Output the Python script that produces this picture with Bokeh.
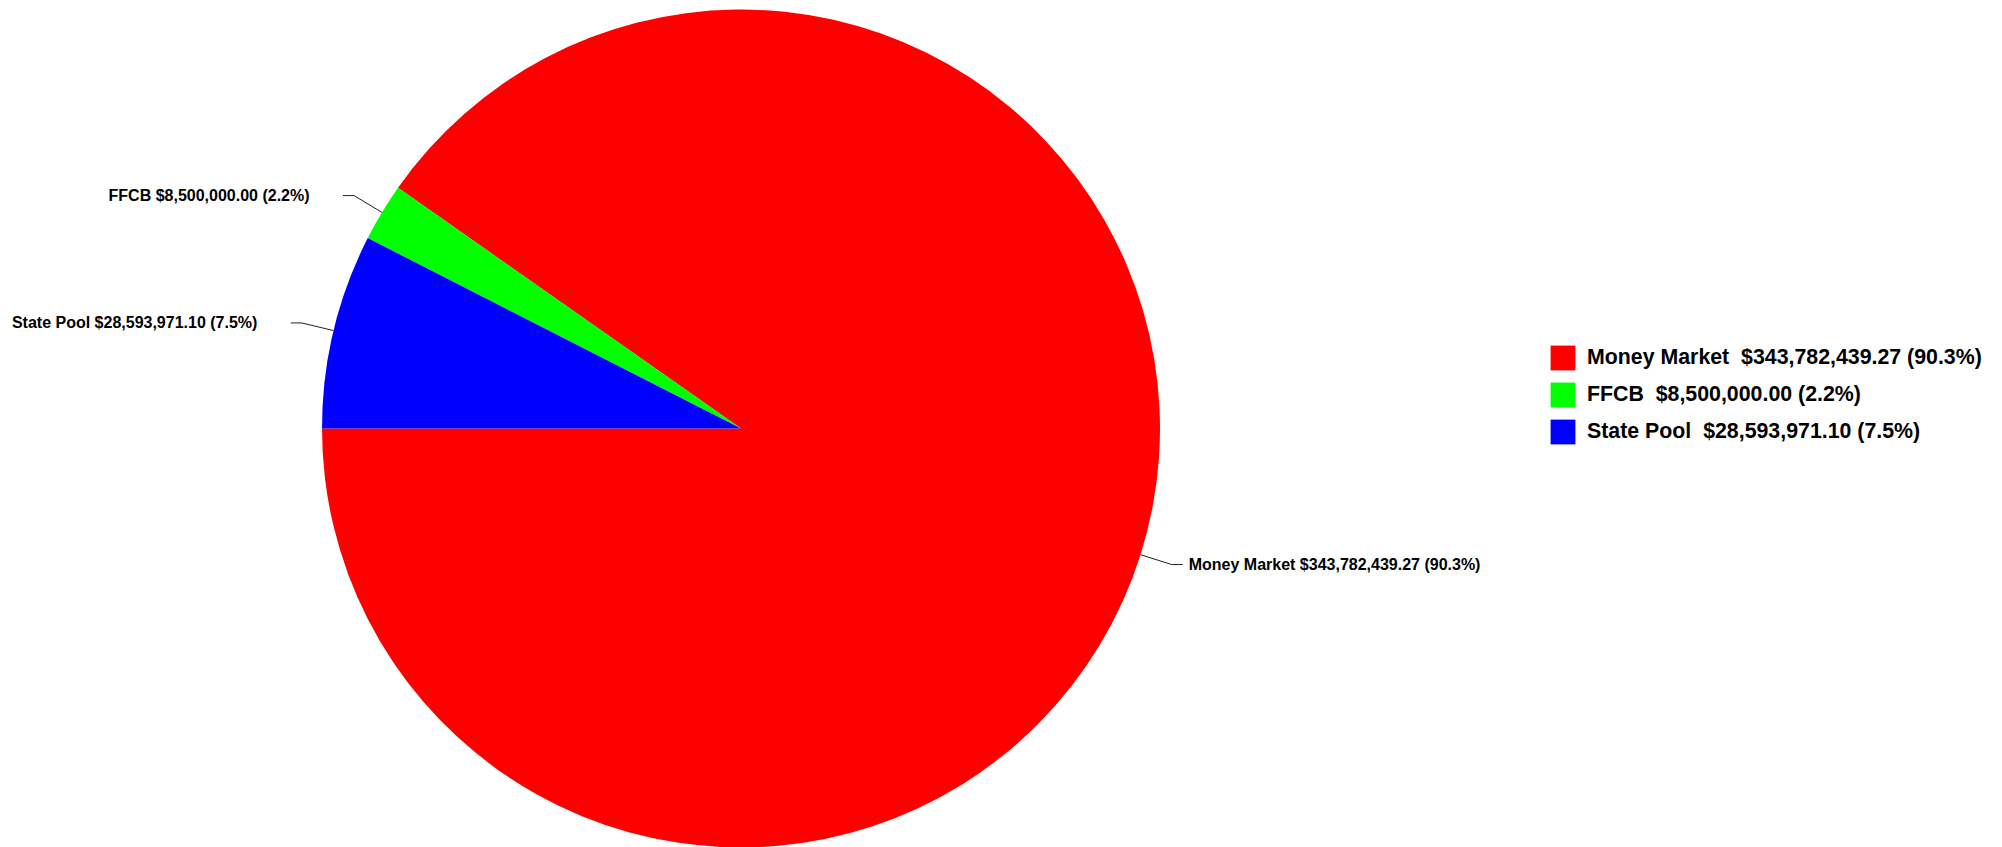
import math
from bokeh.plotting import figure
from bokeh.models import Range1d, Legend, LegendItem
from bokeh.core.properties import value
from bokeh.embed import file_html
from bokeh.resources import INLINE

# ---- data ----
categories = ["Money Market", "FFCB", "State Pool"]
amounts = [343782439.27, 8500000.00, 28593971.10]
colors = ["#FF0000", "#00FF00", "#0000FF"]

# ---- layout (pixels) ----
W, H = 2002, 847
CX, CY, R = 740.5, 847 - 428.0, 419.0
ELBOW = 1.078
HSEG = 11
FONT = "Liberation Sans"

total = sum(amounts)
fracs = [a / total for a in amounts]
labels = [f"{c}  ${a:,.2f} ({f*100:.1f}%)" for c, a, f in zip(categories, amounts, fracs)]

starts, ends = [], []
ang = math.pi
for f in fracs:
    starts.append(ang)
    ang += f * 2 * math.pi
    ends.append(ang)

p = figure(width=W, height=H, x_range=Range1d(0, W), y_range=Range1d(0, H),
           output_backend="svg", toolbar_location=None, min_border=0,
           x_axis_location=None, y_axis_location=None)
p.grid.visible = False
p.outline_line_color = None
p.background_fill_color = "white"
p.border_fill_color = "white"

wedges = p.wedge(x=[CX] * 3, y=[CY] * 3, radius=R, start_angle=starts, end_angle=ends,
                 fill_color=colors, line_color=None, direction="anticlock")

# leader lines and labels
xs, ys = [], []
rx, ry, rt = [], [], []
lx, ly, lt = [], [], []
for s, e, lab in zip(starts, ends, labels):
    m = (s + e) / 2
    c, sn = math.cos(m), math.sin(m)
    x0, y0 = CX + R * c, CY + R * sn
    x1, y1 = CX + R * ELBOW * c, CY + R * ELBOW * sn
    if c >= 0:
        x2 = x1 + HSEG
        rx.append(x2 + 6); ry.append(y1); rt.append(lab)
    else:
        x2 = x1 - HSEG
        lx.append(x2 - 29); ly.append(y1); lt.append(lab)
    xs.append([x0, x1, x2]); ys.append([y0, y1, y1])

p.multi_line(xs=xs, ys=ys, line_color="#202020", line_width=1)
p.text(x=rx, y=ry, text=rt, text_align="left", text_baseline="middle",
       text_font=value(FONT), text_font_style="bold", text_font_size="16px", text_color="black")
p.text(x=lx, y=ly, text=lt, text_align="right", text_baseline="middle",
       text_font=value(FONT), text_font_style="bold", text_font_size="16px", text_color="black")

# legend (square swatches drawn from the wedge renderer)
items = [LegendItem(label=lab, renderers=[wedges], index=i) for i, lab in enumerate(labels)]

legend = Legend(items=items, location=(1547, 400), padding=0, margin=0, spacing=6,
                glyph_width=31, glyph_height=31, label_height=31, label_standoff=9,
                label_text_font=FONT, label_text_font_style="bold",
                label_text_font_size="21.33px", label_text_color="black",
                border_line_color=None, background_fill_alpha=0)
p.add_layout(legend, "center")

open("out.html", "w").write(file_html(p, INLINE))
